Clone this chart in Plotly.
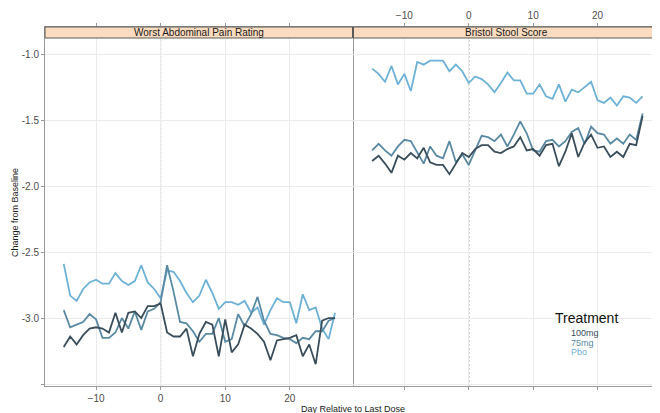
import plotly.graph_objects as go

days = list(range(-15, 28))

pain_100mg = [-3.22, -3.14, -3.20, -3.13, -3.08, -3.07, -3.08, -3.11, -2.96, -3.11, -2.96, -2.95, -3.00, -2.91, -2.91,
              -2.89, -3.11, -3.14, -3.14, -3.08, -3.29, -3.12, -3.03, -3.05, -3.29, -3.01, -3.26, -3.20, -3.05, -3.08,
              -3.12, -3.18, -3.32, -3.17, -3.16, -3.15, -3.13, -3.29, -3.20, -3.35, -3.02, -3.00, -3.00]
pain_75mg = [-2.94, -3.07, -3.05, -3.03, -2.97, -3.01, -3.15, -3.15, -3.11, -3.00, -3.08, -2.95, -3.09, -2.95, -2.93,
             -2.88, -2.60, -2.80, -3.03, -3.04, -3.10, -3.18, -3.12, -3.12, -3.00, -3.18, -3.16, -2.97, -3.06, -2.97,
             -2.84, -3.02, -3.12, -3.13, -3.15, -3.16, -3.19, -3.15, -3.16, -3.10, -3.10, -3.02, -3.00]
pain_pbo = [-2.59, -2.83, -2.87, -2.78, -2.73, -2.71, -2.74, -2.74, -2.66, -2.72, -2.75, -2.72, -2.60, -2.73, -2.78,
            -2.85, -2.64, -2.65, -2.72, -2.81, -2.88, -2.83, -2.71, -2.81, -2.93, -2.88, -2.88, -2.90, -2.87, -2.96,
            -2.92, -3.05, -2.94, -2.85, -2.88, -2.88, -3.04, -2.82, -2.94, -2.92, -3.08, -3.16, -2.96]

stool_100mg = [-1.81, -1.77, -1.83, -1.90, -1.77, -1.80, -1.75, -1.79, -1.71, -1.82, -1.84, -1.84, -1.91, -1.83, -1.75,
               -1.78, -1.72, -1.69, -1.69, -1.74, -1.75, -1.72, -1.70, -1.63, -1.73, -1.72, -1.77, -1.69, -1.68, -1.85,
               -1.74, -1.60, -1.78, -1.67, -1.61, -1.71, -1.70, -1.78, -1.74, -1.78, -1.68, -1.69, -1.47]
stool_75mg = [-1.73, -1.68, -1.73, -1.77, -1.70, -1.65, -1.66, -1.74, -1.83, -1.70, -1.77, -1.79, -1.66, -1.82, -1.76,
              -1.84, -1.73, -1.62, -1.63, -1.66, -1.61, -1.70, -1.61, -1.51, -1.60, -1.73, -1.74, -1.66, -1.65, -1.70,
              -1.66, -1.59, -1.56, -1.68, -1.55, -1.60, -1.61, -1.68, -1.64, -1.68, -1.61, -1.65, -1.45]
stool_pbo = [-1.11, -1.15, -1.21, -1.09, -1.23, -1.15, -1.28, -1.06, -1.08, -1.05, -1.05, -1.05, -1.13, -1.08, -1.13,
             -1.22, -1.17, -1.19, -1.23, -1.29, -1.22, -1.14, -1.20, -1.20, -1.30, -1.30, -1.23, -1.32, -1.34, -1.23,
             -1.36, -1.27, -1.29, -1.25, -1.21, -1.35, -1.37, -1.33, -1.39, -1.32, -1.33, -1.37, -1.32]

treatments = ["100mg", "75mg", "Pbo"]
colors = {"100mg": "#3A4D5B", "75mg": "#5A8AA3", "Pbo": "#6DB1D6"}
panel_titles = ["Worst Abdominal Pain Rating", "Bristol Stool Score"]
x_ticks = [-10, 0, 10, 20]
y_ticks = [-3.5, -3.0, -2.5, -2.0, -1.5, -1.0]
y_ticktext = ["", "-3.0", "-2.5", "-2.0", "-1.5", "-1.0"]

panels = [
    ("x", {"100mg": pain_100mg, "75mg": pain_75mg, "Pbo": pain_pbo}),
    ("x2", {"100mg": stool_100mg, "75mg": stool_75mg, "Pbo": stool_pbo}),
]

FONT = "Liberation Sans, Arial, sans-serif"
fig = go.Figure()
for xa, series in panels:
    for t in ["Pbo", "75mg", "100mg"]:
        fig.add_trace(go.Scatter(x=days, y=series[t], mode="lines", name=t, xaxis=xa, yaxis="y",
                                 line=dict(color=colors[t], width=1.8), showlegend=False))

xrange = [-17.9, 29.7]
grid = "#EBEBEB"
axcol = "#9A9A9A"
dom_l = [0, 0.5]
dom_r = [0.5016, 1]
strip_bottom = 0.9694

common_x = dict(range=xrange, tickvals=x_ticks, showgrid=True, gridcolor=grid, gridwidth=0.8, zeroline=False,
                showline=True, linecolor=axcol, linewidth=1, ticks="outside", ticklen=3, tickcolor=axcol,
                tickfont=dict(family=FONT, size=10, color="#4D4D4D"), mirror="ticks", automargin=False)

# page body has an 8px default margin, so the figure is sized/margined to compensate
fig.update_layout(
    width=652, height=405,
    margin=dict(l=37, r=0, t=19, b=27, autoexpand=False),
    paper_bgcolor="white", plot_bgcolor="white",
    xaxis=dict(domain=dom_l, anchor="y", side="bottom", **common_x),
    xaxis2=dict(domain=dom_r, anchor="y", side="top", **common_x),
    yaxis=dict(range=[-3.515, -0.795], tickvals=y_ticks, ticktext=y_ticktext, showgrid=True, gridcolor=grid,
               gridwidth=0.8, zeroline=False, showline=True, linecolor=axcol, linewidth=1, mirror=True,
               ticks="outside", ticklen=3, tickcolor=axcol, automargin=False,
               tickfont=dict(family=FONT, size=10, color="#4D4D4D")),
    showlegend=False,
)

shapes = []
annotations = []
for (xa, _), dom, title in zip(panels, [dom_l, dom_r], panel_titles):
    shapes.append(dict(type="line", xref=xa, yref="paper", x0=0, x1=0, y0=0, y1=strip_bottom,
                       line=dict(color="#666666", width=1, dash="2px,2px"), layer="between"))
    shapes.append(dict(type="rect", xref="paper", yref="paper", x0=dom[0], x1=dom[1], y0=strip_bottom, y1=1,
                       fillcolor="#FCDCC0", line=dict(color="#5A5A5A", width=1), layer="above"))
    annotations.append(dict(text=title, xref="paper", yref="paper", x=(dom[0] + dom[1]) / 2,
                            y=(strip_bottom + 1) / 2, showarrow=False, xanchor="center", yanchor="middle",
                            font=dict(family=FONT, size=10, color="#1A1A1A")))

annotations.append(dict(text="Day Relative to Last Dose", xref="paper", yref="paper", x=(353 - 45) / 615, y=0,
                        yanchor="top", yshift=-16, showarrow=False,
                        font=dict(family=FONT, size=9, color="#1A1A1A")))
annotations.append(dict(text="Change from Baseline", xref="paper", yref="paper", x=0, y=0.482,
                        xshift=-30, textangle=-90, showarrow=False, xanchor="center", yanchor="middle",
                        font=dict(family=FONT, size=9, color="#1A1A1A")))

# legend as text
lx = 570
annotations.append(dict(text="Treatment", xref="paper", yref="paper", x=(553 - 45) / 615, y=(386 - 318) / 359,
                        xanchor="left", yanchor="middle", showarrow=False,
                        font=dict(family=FONT, size=14, color="#111111")))
for i, t in enumerate(treatments):
    annotations.append(dict(text=t, xref="paper", yref="paper", x=(lx - 45) / 615, y=(386 - (333 + 9.5 * i)) / 359,
                            xanchor="left", yanchor="middle", showarrow=False, borderpad=0,
                            font=dict(family=FONT, size=9, color=colors[t])))

fig.update_layout(shapes=shapes, annotations=annotations)
fig.write_html("out.html")
